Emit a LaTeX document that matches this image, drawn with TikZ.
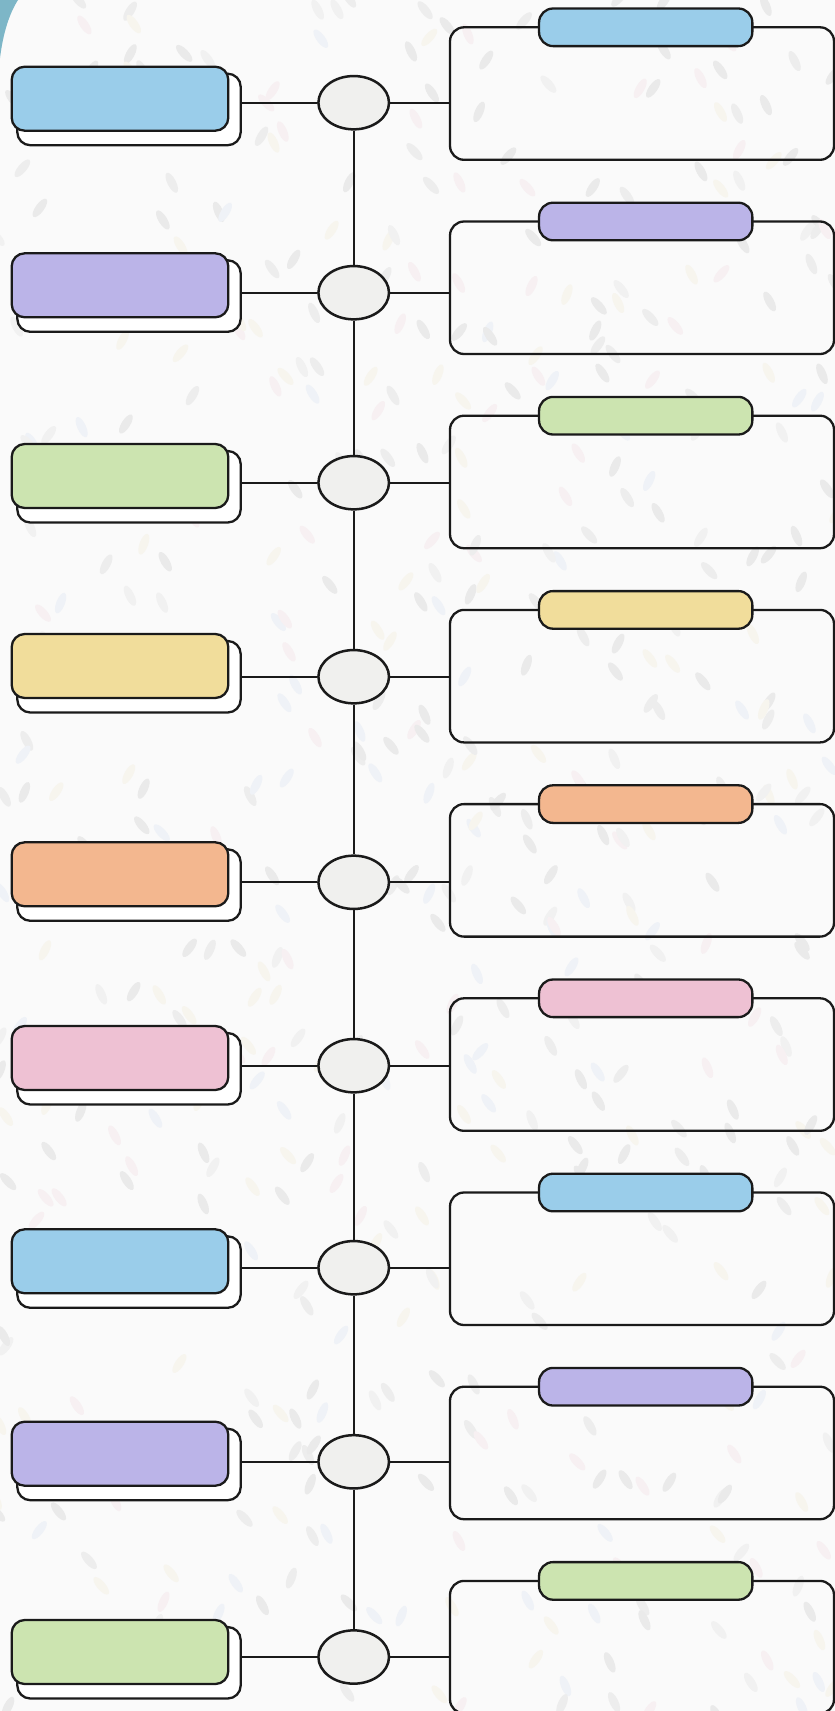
\documentclass[tikz,border=0pt]{standalone}
\usetikzlibrary{shapes.geometric}
\definecolor{bgc}{HTML}{FAFAFA}
\definecolor{ink}{HTML}{1A1A1A}
\definecolor{hubc}{HTML}{F0F0EE}
\definecolor{cblue}{HTML}{9ACDEA}
\definecolor{cpurple}{HTML}{BBB4E8}
\definecolor{cgreen}{HTML}{CCE4B0}
\definecolor{cyellow}{HTML}{F1DD9B}
\definecolor{corange}{HTML}{F3B78F}
\definecolor{cpink}{HTML}{EEC1D3}
\definecolor{cteal}{HTML}{7DB6C7}
\definecolor{leafa}{HTML}{EAEAEA}
\definecolor{leafb}{HTML}{EDEDED}
\definecolor{leafc}{HTML}{F1F1F1}
\definecolor{leafd}{HTML}{F7F0F2}
\definecolor{leafe}{HTML}{EFF2F7}
\definecolor{leaff}{HTML}{F7F5EE}
\tikzset{
  lbox/.style={draw=ink, line width=2.3pt, rounded corners=13pt, minimum width=216.6pt, minimum height=64pt, inner sep=0pt},
  shbox/.style={draw=ink, fill=white, line width=2.3pt, rounded corners=13pt, minimum width=223.4pt, minimum height=71.5pt, inner sep=0pt},
  hub/.style={ellipse, draw=ink, fill=hubc, line width=2.5pt, minimum width=70.6pt, minimum height=53.3pt, inner sep=0pt},
  rbox/.style={draw=ink, line width=2.3pt, rounded corners=14pt, minimum width=384pt, minimum height=132.5pt, inner sep=0pt},
  pill/.style={draw=ink, line width=2.3pt, rounded corners=14pt, minimum width=213.3pt, minimum height=37.6pt, inner sep=0pt},
  link/.style={draw=ink, line width=2.1pt}
}
\begin{document}
\begin{tikzpicture}[x=1pt,y=-1pt]
\useasboundingbox (0,0) rectangle (835,1711);
\fill[bgc] (0,0) rectangle (835,1711);
% faint leaf pattern
\pgfmathsetseed{11}
\foreach \i in {1,...,560}{
  \pgfmathsetmacro\lx{rnd*845-5}
  \pgfmathsetmacro\ly{rnd*1721-5}
  \pgfmathsetmacro\lr{rnd}
  \pgfmathsetmacro\la{\lr<0.62 ? 112+rnd*22 : 48+rnd*22}
  \pgfmathtruncatemacro\lc{random(1,7)}
  \ifcase\lc\or\def\lcol{leafa}\or\def\lcol{leafb}\or\def\lcol{leafc}\or\def\lcol{leafa}\or\def\lcol{leafd}\or\def\lcol{leafe}\or\def\lcol{leaff}\fi
  \fill[\lcol, rotate around={\la:(\lx,\ly)}] (\lx,\ly) ellipse [x radius=11pt, y radius=4.3pt];
}
% teal corner
\fill[cteal] (0,0) -- (18,0) .. controls (9,14) and (3,34) .. (0,58) -- cycle;
% rows
\foreach \k/\ft/\cy/\col in {1/66.7/102.7/cblue, 2/253.3/292.7/cpurple, 3/444/482.7/cgreen, 4/634/676.7/cyellow, 5/842.3/882.3/corange, 6/1026/1065.7/cpink, 7/1229.3/1267.7/cblue, 8/1421.7/1461.8/cpurple, 9/1620/1657/cgreen}{
  \pgfmathsetmacro\sy{\ft+42.75}
  \pgfmathsetmacro\fy{\ft+32}
  \pgfmathsetmacro\rt{27.3+194.2*(\k-1)}
  \pgfmathsetmacro\ry{\rt+66.25}
  \node[shbox] (sh\k) at (129,\sy) {};
  \node[lbox, fill=\col] (lb\k) at (120,\fy) {};
  \node[rbox] (rb\k) at (642,\ry) {};
  \node[pill, fill=\col] (pl\k) at (645.7,\rt) {};
  \node[hub] (c\k) at (353.7,\cy) {};
  \draw[link] (sh\k.east |- c\k.west) -- (c\k.west);
  \draw[link] (c\k.east) -- (rb\k.west |- c\k.east);
}
\foreach \k [evaluate=\k as \n using int(\k+1)] in {1,...,8}{
  \draw[link] (c\k.south) -- (c\n.north);
}
\end{tikzpicture}
\end{document}
